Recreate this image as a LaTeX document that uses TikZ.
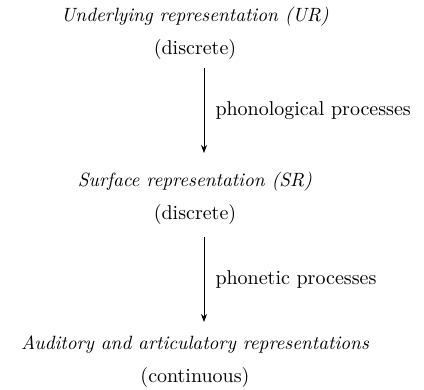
\documentclass[tikz,border=0pt]{standalone}
\usetikzlibrary{positioning,arrows.meta}

\newcommand{\repname}[1]{{\fontsize{9.6}{16.5}\selectfont\itshape #1}}

\begin{document}
\begin{tikzpicture}[
    x=0.5pt, y=-0.5pt,
    level/.style={align=center, inner sep=0pt,
        font=\fontsize{10}{16.5}\selectfont},
    process/.style={draw, -{Stealth[length=4pt,width=3pt]}, line width=0.5pt},
    label/.style={right=5.5pt, inner sep=0pt, font=\fontsize{10}{12}\selectfont}
]
\useasboundingbox (0,0) rectangle (424,390);
\node (UR) [level] at (195,33.5) {\repname{Underlying representation (UR)}\\(discrete)};
\node (SR) [level] at (195,198.5) {\repname{Surface representation (SR)}\\(discrete)};
\node (AR) [level] at (195,361.5) {\repname{Auditory and articulatory representations}\\(continuous)};
% arrows between the levels
\draw [process] ([xshift=4.5pt,yshift=-17.25pt]UR.center)
  -- node [label] {phonological processes} ([xshift=4.5pt,yshift=22.75pt]SR.center);
\draw [process] ([xshift=4.5pt,yshift=-19.25pt]SR.center)
  -- node [label] {phonetic processes} ([xshift=4.5pt,yshift=19.75pt]AR.center);
\end{tikzpicture}
\end{document}
